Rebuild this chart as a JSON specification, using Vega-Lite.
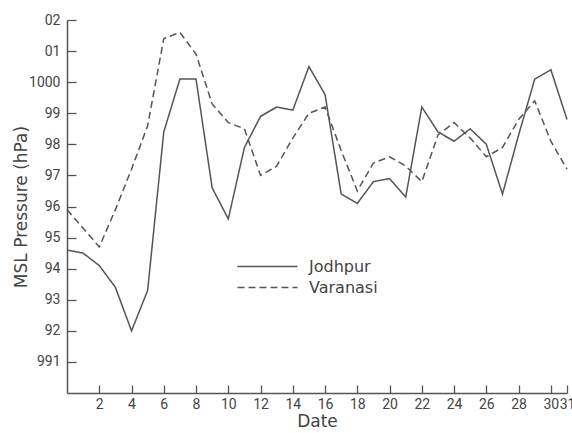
{
  "$schema": "https://vega.github.io/schema/vega-lite/v6.json",
  "autosize": {"type": "none"},
  "padding": {"left": 67, "top": 20, "right": 5, "bottom": 40},
  "width": 500,
  "height": 373,
  "background": "white",
  "config": {
    "view": {"stroke": null},
    "font": "DejaVu Sans",
    "axis": {
      "domainColor": "#555",
      "domainWidth": 1.5,
      "ticks": false,
      "labelColor": "#444",
      "titleColor": "#444",
      "labelFont": "Roboto",
      "labelFontSize": 14,
      "titleFont": "DejaVu Sans",
      "titleFontWeight": "normal",
      "grid": true,
      "gridColor": "#555",
      "gridWidth": 1.3,
      "gridOpacity": 1,
      "gridCap": "butt"
    }
  },
  "data": {
    "values": [
      {"date": 0, "city": "Jodhpur", "p": 994.6},
      {"date": 1, "city": "Jodhpur", "p": 994.5},
      {"date": 2, "city": "Jodhpur", "p": 994.1},
      {"date": 3, "city": "Jodhpur", "p": 993.4},
      {"date": 4, "city": "Jodhpur", "p": 992.0},
      {"date": 5, "city": "Jodhpur", "p": 993.3},
      {"date": 6, "city": "Jodhpur", "p": 998.4},
      {"date": 7, "city": "Jodhpur", "p": 1000.1},
      {"date": 8, "city": "Jodhpur", "p": 1000.1},
      {"date": 9, "city": "Jodhpur", "p": 996.6},
      {"date": 10, "city": "Jodhpur", "p": 995.6},
      {"date": 11, "city": "Jodhpur", "p": 997.9},
      {"date": 12, "city": "Jodhpur", "p": 998.9},
      {"date": 13, "city": "Jodhpur", "p": 999.2},
      {"date": 14, "city": "Jodhpur", "p": 999.1},
      {"date": 15, "city": "Jodhpur", "p": 1000.5},
      {"date": 16, "city": "Jodhpur", "p": 999.6},
      {"date": 17, "city": "Jodhpur", "p": 996.4},
      {"date": 18, "city": "Jodhpur", "p": 996.1},
      {"date": 19, "city": "Jodhpur", "p": 996.8},
      {"date": 20, "city": "Jodhpur", "p": 996.9},
      {"date": 21, "city": "Jodhpur", "p": 996.3},
      {"date": 22, "city": "Jodhpur", "p": 999.2},
      {"date": 23, "city": "Jodhpur", "p": 998.4},
      {"date": 24, "city": "Jodhpur", "p": 998.1},
      {"date": 25, "city": "Jodhpur", "p": 998.5},
      {"date": 26, "city": "Jodhpur", "p": 998.0},
      {"date": 27, "city": "Jodhpur", "p": 996.4},
      {"date": 28, "city": "Jodhpur", "p": 998.3},
      {"date": 29, "city": "Jodhpur", "p": 1000.1},
      {"date": 30, "city": "Jodhpur", "p": 1000.4},
      {"date": 31, "city": "Jodhpur", "p": 998.8},
      {"date": 0, "city": "Varanasi", "p": 995.9},
      {"date": 1, "city": "Varanasi", "p": 995.3},
      {"date": 2, "city": "Varanasi", "p": 994.7},
      {"date": 3, "city": "Varanasi", "p": 995.9},
      {"date": 4, "city": "Varanasi", "p": 997.2},
      {"date": 5, "city": "Varanasi", "p": 998.6},
      {"date": 6, "city": "Varanasi", "p": 1001.4},
      {"date": 7, "city": "Varanasi", "p": 1001.6},
      {"date": 8, "city": "Varanasi", "p": 1000.9},
      {"date": 9, "city": "Varanasi", "p": 999.3},
      {"date": 10, "city": "Varanasi", "p": 998.7},
      {"date": 11, "city": "Varanasi", "p": 998.5},
      {"date": 12, "city": "Varanasi", "p": 997.0},
      {"date": 13, "city": "Varanasi", "p": 997.3},
      {"date": 14, "city": "Varanasi", "p": 998.2},
      {"date": 15, "city": "Varanasi", "p": 999.0},
      {"date": 16, "city": "Varanasi", "p": 999.2},
      {"date": 17, "city": "Varanasi", "p": 997.8},
      {"date": 18, "city": "Varanasi", "p": 996.5},
      {"date": 19, "city": "Varanasi", "p": 997.4},
      {"date": 20, "city": "Varanasi", "p": 997.6},
      {"date": 21, "city": "Varanasi", "p": 997.3},
      {"date": 22, "city": "Varanasi", "p": 996.8},
      {"date": 23, "city": "Varanasi", "p": 998.3},
      {"date": 24, "city": "Varanasi", "p": 998.7},
      {"date": 25, "city": "Varanasi", "p": 998.2},
      {"date": 26, "city": "Varanasi", "p": 997.6},
      {"date": 27, "city": "Varanasi", "p": 997.9},
      {"date": 28, "city": "Varanasi", "p": 998.8},
      {"date": 29, "city": "Varanasi", "p": 999.4},
      {"date": 30, "city": "Varanasi", "p": 998.1},
      {"date": 31, "city": "Varanasi", "p": 997.2}
    ]
  },
  "mark": {"type": "line", "color": "#555", "strokeWidth": 1.5},
  "encoding": {
    "x": {
      "field": "date",
      "type": "quantitative",
      "scale": {"domain": [0, 31], "nice": false, "zero": false},
      "axis": {
        "title": "Date",
        "titleFontSize": 17,
        "titlePadding": 2,
        "values": [2, 4, 6, 8, 10, 12, 14, 16, 18, 20, 22, 24, 26, 28, 30, 31],
        "gridDash": [0, 365, 8, 1000],
        "labelPadding": 4,
        "labelFlush": false,
        "labelOverlap": false
      }
    },
    "y": {
      "field": "p",
      "type": "quantitative",
      "scale": {"domain": [990, 1002], "nice": false, "zero": false},
      "axis": {
        "title": "MSL Pressure (hPa)",
        "titleFontSize": 17,
        "titlePadding": -2,
        "values": [991, 992, 993, 994, 995, 996, 997, 998, 999, 1000, 1001, 1002],
        "labelExpr": "datum.value == 1000 || datum.value == 991 ? toString(datum.value) : slice(toString(datum.value), -2)",
        "gridDash": [9, 1000],
        "labelPadding": 7,
        "labelFlush": false,
        "labelOverlap": false
      }
    },
    "strokeDash": {
      "field": "city",
      "type": "nominal",
      "scale": {"domain": ["Jodhpur", "Varanasi"], "range": [[1, 0], [7, 4]]},
      "legend": {
        "title": null,
        "orient": "none",
        "legendX": 192,
        "legendY": 238,
        "symbolType": "M-4,0H4",
        "symbolSize": 225,
        "symbolStrokeColor": "#555",
        "symbolStrokeWidth": 1.5,
        "labelFont": "DejaVu Sans",
        "labelFontSize": 16,
        "labelColor": "#444",
        "labelOffset": 33,
        "rowPadding": 4
      }
    }
  }
}
